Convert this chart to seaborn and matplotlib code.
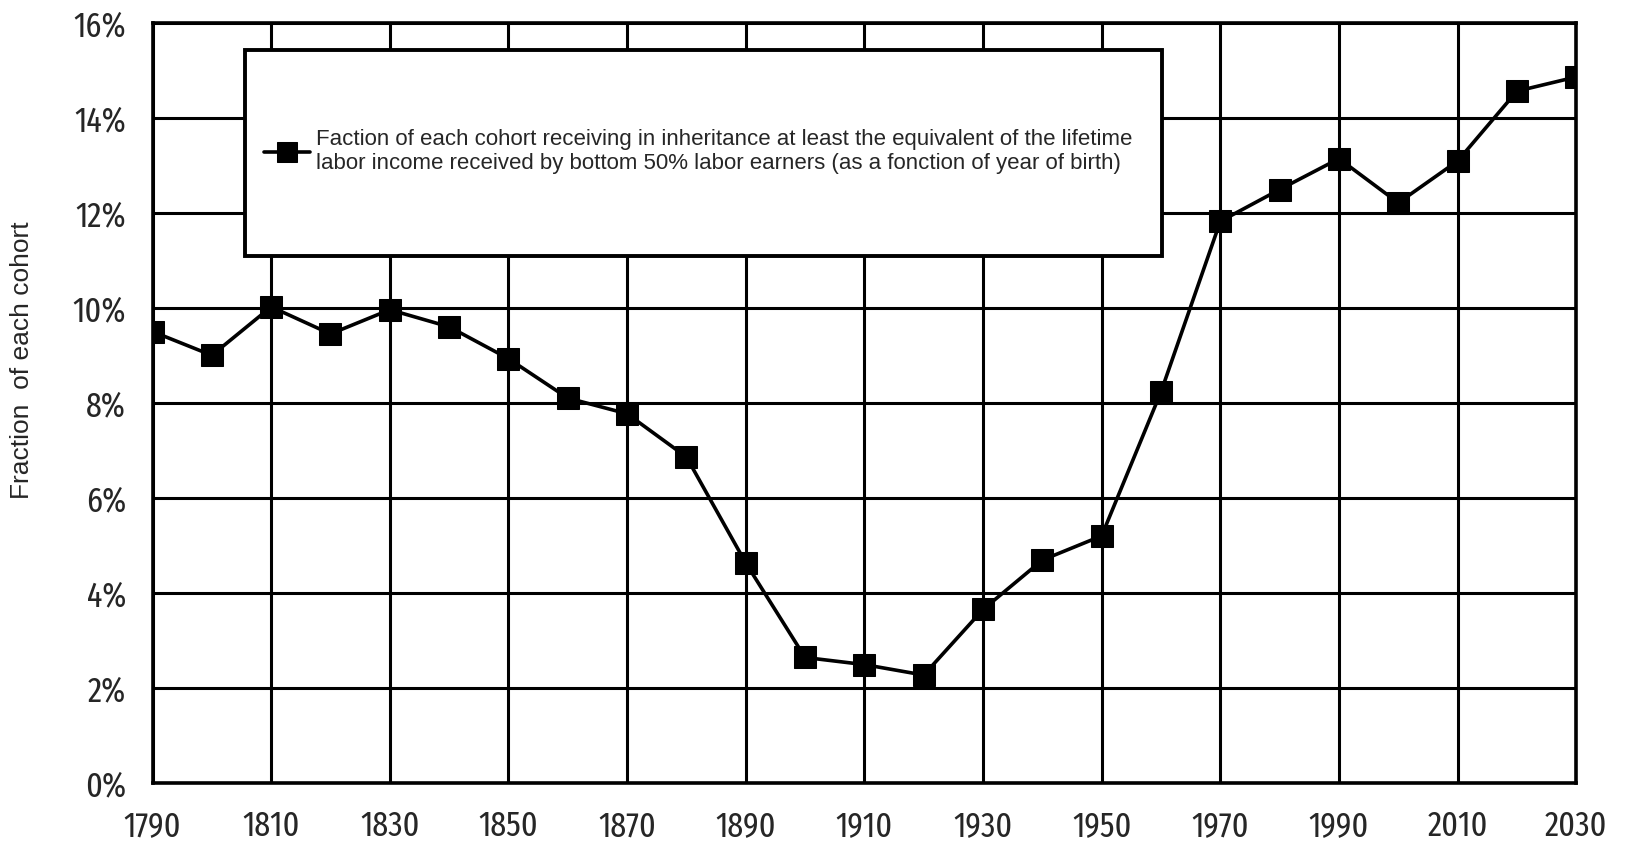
import matplotlib
matplotlib.use("Agg")
import matplotlib.pyplot as plt
import seaborn as sns
import pandas as pd
from matplotlib.patches import Rectangle
from matplotlib.ticker import FuncFormatter

# Birth-year cohorts and share receiving large inheritance (%)
years = [1790, 1800, 1810, 1820, 1830, 1840, 1850, 1860, 1870, 1880,
         1890, 1900, 1910, 1920, 1930, 1940, 1950, 1960, 1970, 1980,
         1990, 2000, 2010, 2020, 2030]
share = [9.50, 9.00, 10.02, 9.45, 9.96, 9.60, 8.93, 8.10, 7.77, 6.86,
         4.63, 2.64, 2.49, 2.27, 3.65, 4.69, 5.20, 8.23, 11.82, 12.49,
         13.14, 12.21, 13.09, 14.56, 14.86]
x_ticks = list(range(1790, 2031, 20))
y_ticks = list(range(0, 17, 2))
series_label = ("Faction of each cohort receiving in inheritance at least the equivalent of the lifetime\n"
                "labor income received by bottom 50% labor earners (as a fonction of year of birth)")

df = pd.DataFrame({"year": years, "share": share})

sns.set_style("white")
plt.rcParams['font.family'] = ['Liberation Sans', 'DejaVu Sans']
narrow = ['Fira Sans Extra Condensed', 'Roboto Condensed', 'Liberation Sans', 'DejaVu Sans']

fig = plt.figure(figsize=(16.26, 8.43), dpi=100)
ax = fig.add_axes([0.0938, 0.0713, 0.8756, 0.9017])

sns.lineplot(data=df, x="year", y="share", ax=ax, color="black", linewidth=2.6,
             marker="s", markersize=16, markeredgecolor="black", label=series_label,
             zorder=5, legend=False)

ax.set_xlim(1790, 2030)
ax.set_ylim(0, 16)
ax.set_xticks(x_ticks)
ax.set_yticks(y_ticks)
ax.yaxis.set_major_formatter(FuncFormatter(lambda v, p: f"{v:.0f}%"))
ax.grid(True, color="black", linewidth=2.2)
ax.set_axisbelow(True)
for s in ax.spines.values():
    s.set_color("black")
    s.set_linewidth(2.6)
ax.tick_params(axis="both", length=9, width=2, color="black", labelsize=25, pad=10)
for lab in ax.get_xticklabels() + ax.get_yticklabels():
    lab.set_family(narrow)
ax.set_xlabel("")
ax.set_ylabel("Fraction  of each cohort", fontsize=19)
ax.yaxis.set_label_coords(-0.083, 0.556)

# legend box
box = Rectangle((1805.6, 11.1), 154.5, 4.33, facecolor="white", edgecolor="black",
                linewidth=2.8, zorder=3)
ax.add_patch(box)
leg = ax.legend(loc="upper left", bbox_to_anchor=(0.078, 0.860), frameon=False,
                fontsize=16, handlelength=2.1, handletextpad=0.25, borderpad=0,
                borderaxespad=0, markerscale=0.9)
leg.set_zorder(6)

fig.savefig("out.png", dpi=100)
